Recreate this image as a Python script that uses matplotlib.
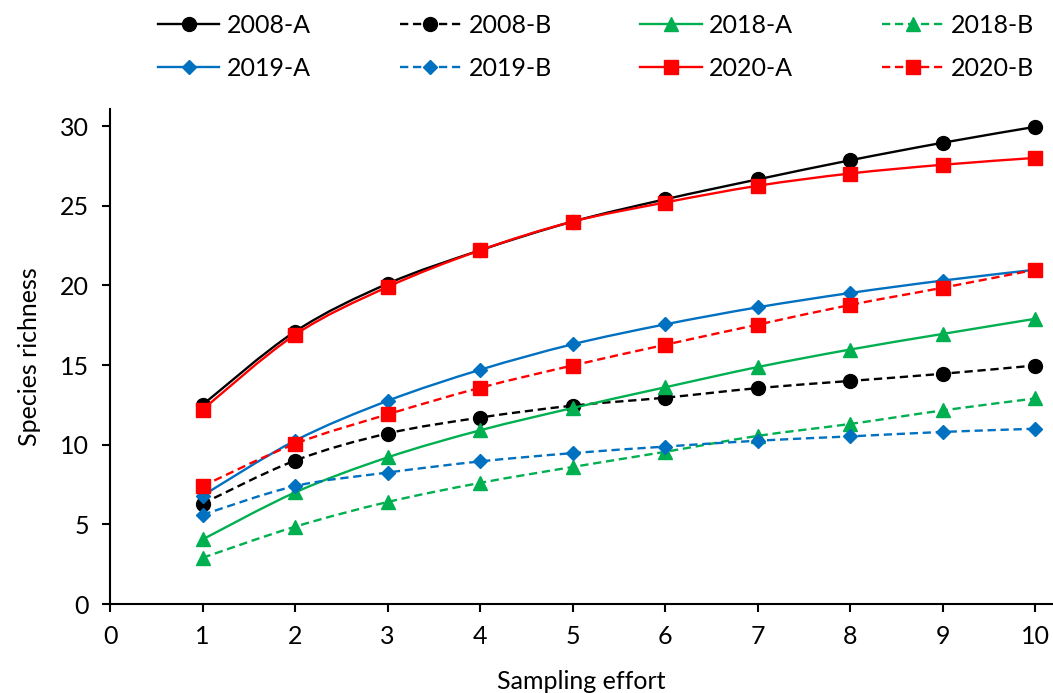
import matplotlib.pyplot as plt
import numpy as np
from matplotlib.path import Path
from matplotlib.patches import PathPatch
from matplotlib.lines import Line2D

plt.rcParams['font.family'] = ['Lato', 'DejaVu Sans']

# Data
effort = [1, 2, 3, 4, 5, 6, 7, 8, 9, 10]
labels = ['2008-A', '2008-B', '2018-A', '2018-B', '2019-A', '2019-B', '2020-A', '2020-B']
s2008a = [12.5, 17.1, 20.1, 22.2, 24.0, 25.4, 26.65, 27.85, 28.95, 29.95]
s2008b = [6.3, 9.0, 10.7, 11.7, 12.45, 12.95, 13.55, 14.0, 14.45, 14.97]
s2018a = [4.05, 7.0, 9.2, 10.9, 12.3, 13.6, 14.87, 15.97, 16.95, 17.9]
s2018b = [2.9, 4.85, 6.4, 7.6, 8.6, 9.55, 10.55, 11.3, 12.15, 12.9]
s2019a = [6.8, 10.25, 12.75, 14.7, 16.3, 17.55, 18.62, 19.52, 20.3, 20.98]
s2019b = [5.6, 7.4, 8.25, 8.95, 9.47, 9.88, 10.25, 10.52, 10.8, 11.0]
s2020a = [12.2, 16.9, 19.9, 22.2, 24.0, 25.2, 26.25, 27.02, 27.57, 28.0]
s2020b = [7.4, 10.05, 11.9, 13.57, 14.97, 16.27, 17.53, 18.77, 19.85, 20.98]
series = [s2008a, s2008b, s2018a, s2018b, s2019a, s2019b, s2020a, s2020b]

colors = ['black', 'black', '#00B050', '#00B050', '#0070C0', '#0070C0', '#FF0000', '#FF0000']
styles = ['-', '--', '-', '--', '-', '--', '-', '--']
markers = ['o', 'o', '^', '^', 'D', 'D', 's', 's']
msizes = [10, 10, 10, 10, 7.5, 7.5, 10, 10]
DASH = (3.5, 2)


def smooth_path(x, y):
    # Catmull-Rom style cubic Bezier through the points (like Excel's smoothed line)
    pts = np.column_stack([x, y]).astype(float)
    n = len(pts)
    verts = [pts[0]]
    codes = [Path.MOVETO]
    for i in range(n - 1):
        p0 = pts[i - 1] if i > 0 else pts[i]
        p1 = pts[i]
        p2 = pts[i + 1]
        p3 = pts[i + 2] if i + 2 < n else pts[i + 1]
        c1 = p1 + (p2 - p0) / 6
        c2 = p2 - (p3 - p1) / 6
        verts += [c1, c2, p2]
        codes += [Path.CURVE4] * 3
    return Path(verts, codes)


fig = plt.figure(figsize=(10.53, 6.93), dpi=100)
ax = fig.add_axes([110 / 1053, 1 - 604 / 693, (1053 - 110) / 1053, (604 - 109) / 693])

handles = []
for i, (lab, ys) in enumerate(zip(labels, series)):
    patch = PathPatch(smooth_path(effort, ys), fill=False, edgecolor=colors[i],
                      lw=1.7, zorder=2 + i * 0.1)
    if styles[i] == '--':
        patch.set_linestyle((0, DASH))
    ax.add_patch(patch)
    ax.plot(effort, ys, ls='none', marker=markers[i], ms=msizes[i], color=colors[i],
            mec=colors[i], zorder=2.05 + i * 0.1)
    h = Line2D([], [], color=colors[i], lw=1.7, marker=markers[i], ms=msizes[i])
    if styles[i] == '--':
        h.set_dashes(DASH)
    handles.append(h)

ax.set_xlim(0, (1053 - 109.5) / 92.55)
ax.set_ylim(0, 31.07)
ax.set_xticks(range(0, 11))
ax.set_yticks(range(0, 31, 5))
for side in ['top', 'right']:
    ax.spines[side].set_visible(False)
for side in ['left', 'bottom']:
    ax.spines[side].set_linewidth(1.5)
ax.tick_params(direction='out', length=6, width=1.5, labelsize=18, colors='black', pad=9)
ax.set_xlabel('Sampling effort', fontsize=18, labelpad=16)
ax.set_ylabel('Species richness', fontsize=18, labelpad=14)

order = [0, 4, 1, 5, 2, 6, 3, 7]
fig.legend([handles[k] for k in order], [labels[k] for k in order], ncol=4,
           loc='upper center', bbox_to_anchor=(596 / 1053, 1.005), frameon=False,
           fontsize=18, handlelength=2.45, handletextpad=0.3, columnspacing=3.55,
           labelspacing=0.8, borderaxespad=0.3)

fig.savefig('out.png', dpi=100)
